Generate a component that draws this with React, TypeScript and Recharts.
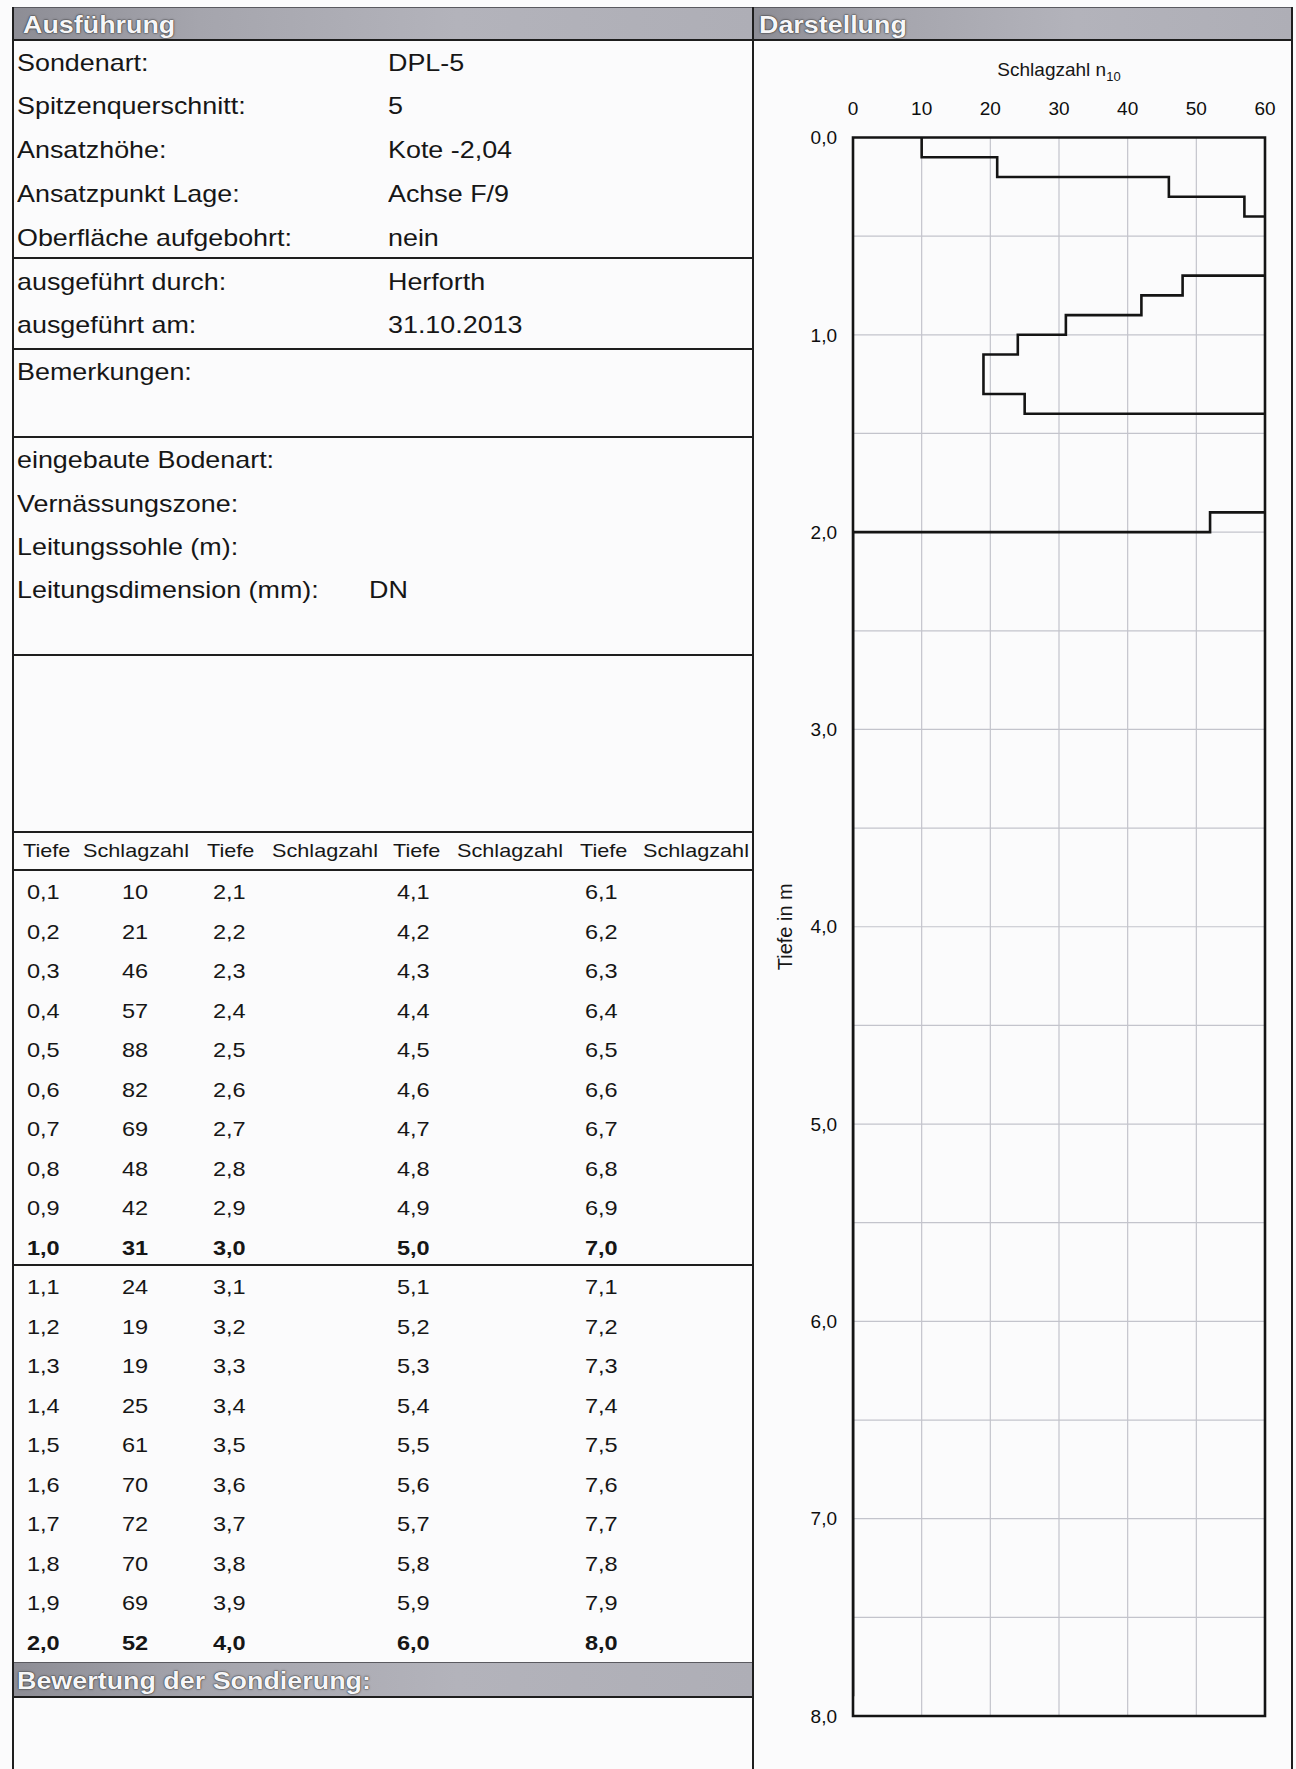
import React from "react";
import { CartesianGrid, Label, Line, LineChart, ReferenceArea, XAxis, YAxis } from "recharts";

// Sondierprotokoll DPL-5: Kopfdaten, Messtabelle und Rammdiagramm

const TIEFE = [
  0.1, 0.2, 0.3, 0.4, 0.5, 0.6, 0.7, 0.8, 0.9, 1.0,
  1.1, 1.2, 1.3, 1.4, 1.5, 1.6, 1.7, 1.8, 1.9, 2.0,
  2.1, 2.2, 2.3, 2.4, 2.5, 2.6, 2.7, 2.8, 2.9, 3.0,
  3.1, 3.2, 3.3, 3.4, 3.5, 3.6, 3.7, 3.8, 3.9, 4.0,
  4.1, 4.2, 4.3, 4.4, 4.5, 4.6, 4.7, 4.8, 4.9, 5.0,
  5.1, 5.2, 5.3, 5.4, 5.5, 5.6, 5.7, 5.8, 5.9, 6.0,
  6.1, 6.2, 6.3, 6.4, 6.5, 6.6, 6.7, 6.8, 6.9, 7.0,
  7.1, 7.2, 7.3, 7.4, 7.5, 7.6, 7.7, 7.8, 7.9, 8.0,
];

// Schlagzahl n10 je 10 cm, nur bis 2,0 m gemessen
const SCHLAGZAHL = [10, 21, 46, 57, 88, 82, 69, 48, 42, 31, 24, 19, 19, 25, 61, 70, 72, 70, 69, 52];

const N_TICKS = [0, 10, 20, 30, 40, 50, 60];
const DEPTH_TICKS = [0, 0.5, 1, 1.5, 2, 2.5, 3, 3.5, 4, 4.5, 5, 5.5, 6, 6.5, 7, 7.5, 8];

const KOPF = [
  ["Sondenart:", "DPL-5"],
  ["Spitzenquerschnitt:", "5"],
  ["Ansatzhöhe:", "Kote -2,04"],
  ["Ansatzpunkt Lage:", "Achse F/9"],
  ["Oberfläche aufgebohrt:", "nein"],
];
const AUSFUEHRUNG = [
  ["ausgeführt durch:", "Herforth"],
  ["ausgeführt am:", "31.10.2013"],
];
const LEITUNG = ["eingebaute Bodenart:", "Vernässungszone:", "Leitungssohle (m):", "Leitungsdimension (mm):"];

const FONT = '"Liberation Sans", Arial, Helvetica, sans-serif';
const INK = "#161616";

const kopfY = [63, 106, 150, 194, 238];
const ausY = [282, 325];
const leitY = [460, 504, 547, 590];
const headCols = [
  [23, 83],
  [207, 272],
  [393, 457],
  [580, 643],
];
const valCols = [
  [27, 122],
  [213, 307],
  [397, 491],
  [585, 679],
];
const rowY = (r: number) => 892 + r * 39.5;

const fmt = (v: number) => v.toFixed(1).replace(".", ",");

// Stufenlinie: Wert eines 10-cm-Intervalls gilt ab dessen Oberkante
const profile = TIEFE.map((t, i) => ({
  depth: Math.round((t - 0.1) * 10) / 10,
  n: SCHLAGZAHL[i] ?? 0,
}));

function Txt({ x, y, size = 24, bold = false, sx = 1.12, children }: any) {
  return (
    <div
      style={{
        position: "absolute",
        left: x,
        top: y - 15,
        height: 30,
        lineHeight: "30px",
        fontSize: size,
        fontWeight: bold ? 700 : 400,
        whiteSpace: "nowrap",
        transform: `scaleX(${sx})`,
        transformOrigin: "left center",
      }}
    >
      {children}
    </div>
  );
}

function HLine({ x1, x2, y, w = 2.5 }: any) {
  return <div style={{ position: "absolute", left: x1, top: y - w / 2, width: x2 - x1, height: w, background: "#1e1e1e" }} />;
}

function VLine({ x, y1, y2, w = 2.2 }: any) {
  return <div style={{ position: "absolute", left: x - w / 2, top: y1, width: w, height: y2 - y1, background: "#1e1e1e" }} />;
}

function Band({ x, y, w, h, title, tx = 10 }: any) {
  return (
    <div
      style={{
        position: "absolute",
        left: x,
        top: y,
        width: w,
        height: h,
        boxSizing: "border-box",
        borderTop: "1px solid #5a5a60",
        borderBottom: "2.5px solid #1e1e1e",
        background: "linear-gradient(to right, #8d8d95 0%, #a5a5ad 25%, #b3b3bb 60%, #aeaeb6 100%)",
      }}
    >
      <span
        style={{
          position: "absolute",
          left: tx,
          top: (h - 32) / 2,
          lineHeight: "32px",
          fontSize: 24,
          fontWeight: 700,
          color: "#f6f6f8",
          whiteSpace: "nowrap",
          transform: "scaleX(1.12)",
          transformOrigin: "left center",
          textShadow: "0 0 2px #2a2a2a, 0 0 1px #222",
        }}
      >
        {title}
      </span>
    </div>
  );
}

function NTitle({ viewBox }: any) {
  const { x, y, width } = viewBox;
  return (
    <text x={x + width / 2} y={y - 12} textAnchor="middle" fontSize={19} fontFamily={FONT} fill={INK}>
      Schlagzahl n
      <tspan fontSize={13} dy={5}>
        10
      </tspan>
    </text>
  );
}

function DepthTitle({ viewBox }: any) {
  const { x, y, height } = viewBox;
  const cx = x + 32;
  const cy = y + height / 2;
  return (
    <text
      x={cx}
      y={cy}
      textAnchor="middle"
      dominantBaseline="central"
      fontSize={20}
      fontFamily={FONT}
      fill={INK}
      transform={`rotate(-90 ${cx} ${cy})`}
    >
      Tiefe in m
    </text>
  );
}

function Rammdiagramm() {
  const tick = { fill: "#0e0e0e", fontSize: 19, fontFamily: FONT };
  return (
    <LineChart
      layout="vertical"
      width={543}
      height={1769}
      data={profile}
      margin={{ top: 87.5, right: 31, bottom: 53, left: 0 }}
    >
      <CartesianGrid stroke="#c3c4cc" strokeWidth={1.2} />
      <XAxis
        type="number"
        orientation="top"
        domain={[0, 60]}
        ticks={N_TICKS}
        interval={0}
        allowDataOverflow
        height={50}
        axisLine={false}
        tickLine={false}
        tickSize={0}
        tickMargin={23}
        tick={tick}
      >
        <Label content={NTitle} />
      </XAxis>
      <YAxis
        type="number"
        dataKey="depth"
        domain={[0, 8]}
        ticks={DEPTH_TICKS}
        interval={0}
        width={100}
        axisLine={false}
        tickLine={false}
        tickSize={0}
        tickMargin={16}
        tick={tick}
        tickFormatter={(v: number) => (Number.isInteger(v) ? fmt(v) : "")}
      >
        <Label content={DepthTitle} />
      </YAxis>
      <ReferenceArea x1={0} x2={60} y1={0} y2={8} fill="none" stroke="#141414" strokeWidth={2.6} />
      <Line
        dataKey="n"
        type="stepBefore"
        stroke="#141414"
        strokeWidth={2.6}
        dot={false}
        activeDot={false}
        isAnimationActive={false}
      />
    </LineChart>
  );
}

export default function App() {
  return (
    <div
      style={{
        position: "absolute",
        left: 0,
        top: 0,
        width: 1296,
        height: 1769,
        overflow: "hidden",
        background: "#fbfbfc",
        fontFamily: FONT,
        color: INK,
      }}
    >
      <Band x={13} y={7} w={740} h={34} title="Ausführung" />
      <Band x={753} y={7} w={539} h={34} title="Darstellung" tx={6} />
      <Band x={13} y={1662} w={740} h={36} title="Bewertung der Sondierung:" tx={4} />

      <VLine x={13} y1={7} y2={1769} />
      <VLine x={753} y1={7} y2={1769} />
      <VLine x={1292} y1={7} y2={1769} />

      {[258, 349, 437, 655, 832, 870, 1265].map((y) => (
        <HLine key={y} x1={13} x2={753} y={y} />
      ))}

      {KOPF.map(([k, v], i) => (
        <React.Fragment key={k}>
          <Txt x={17} y={kopfY[i]}>{k}</Txt>
          <Txt x={388} y={kopfY[i]}>{v}</Txt>
        </React.Fragment>
      ))}
      {AUSFUEHRUNG.map(([k, v], i) => (
        <React.Fragment key={k}>
          <Txt x={17} y={ausY[i]}>{k}</Txt>
          <Txt x={388} y={ausY[i]}>{v}</Txt>
        </React.Fragment>
      ))}
      <Txt x={17} y={372}>Bemerkungen:</Txt>
      {LEITUNG.map((k, i) => (
        <Txt key={k} x={17} y={leitY[i]}>
          {k}
        </Txt>
      ))}
      <Txt x={369} y={590}>DN</Txt>

      {headCols.map(([tx, nx], g) => (
        <React.Fragment key={g}>
          <Txt x={tx} y={851} size={19} sx={1.14}>Tiefe</Txt>
          <Txt x={nx} y={851} size={19} sx={1.14}>Schlagzahl</Txt>
        </React.Fragment>
      ))}

      {valCols.map(([tx, nx], g) =>
        TIEFE.slice(g * 20, g * 20 + 20).map((t, r) => {
          const i = g * 20 + r;
          const bold = Number.isInteger(Math.round(t * 10) / 10);
          return (
            <React.Fragment key={i}>
              <Txt x={tx} y={rowY(r)} size={21} bold={bold}>
                {fmt(t)}
              </Txt>
              {SCHLAGZAHL[i] !== undefined && (
                <Txt x={nx} y={rowY(r)} size={21} bold={bold}>
                  {SCHLAGZAHL[i]}
                </Txt>
              )}
            </React.Fragment>
          );
        })
      )}

      <div style={{ position: "absolute", left: 753, top: 0 }}>
        <Rammdiagramm />
      </div>
    </div>
  );
}
